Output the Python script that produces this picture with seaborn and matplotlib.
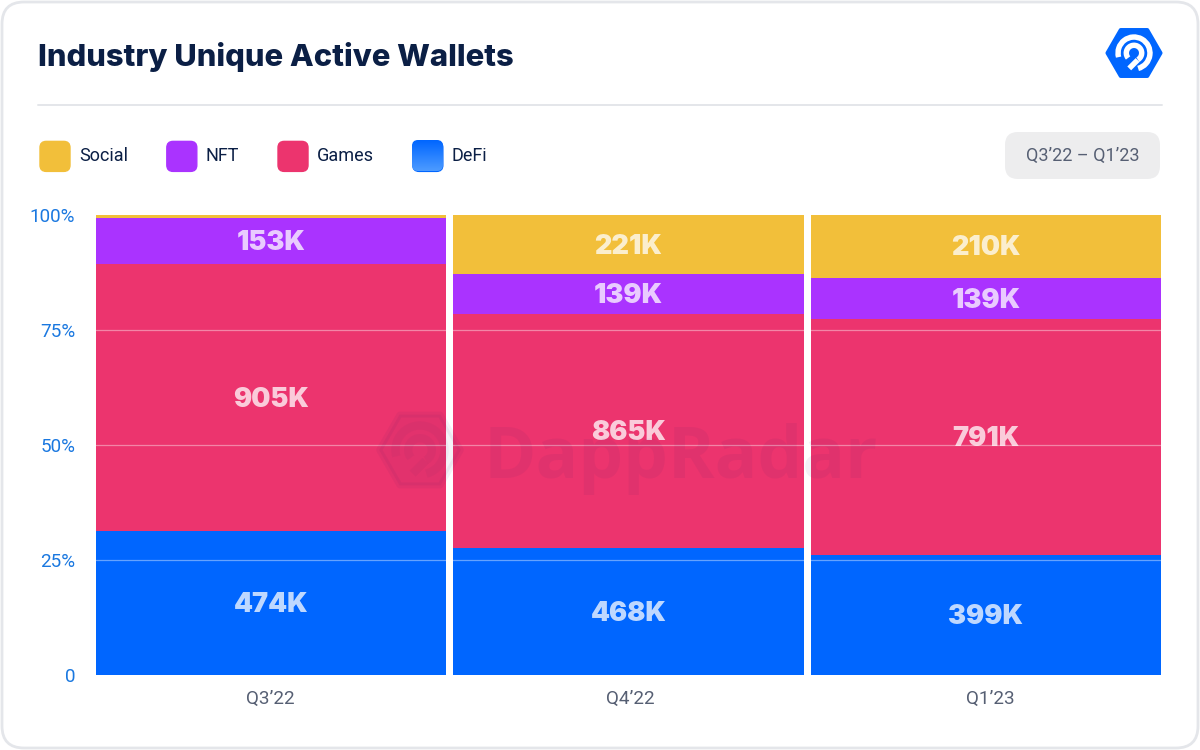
import numpy as np
import pandas as pd
import matplotlib
matplotlib.use('Agg')
import matplotlib.pyplot as plt
import seaborn as sns
from matplotlib.patches import Arc, FancyBboxPatch, Patch, RegularPolygon
from matplotlib.legend_handler import HandlerPatch

# Data (share of the quarter, in percent)
quarters = ["Q3’22", "Q4’22", "Q1’23"]
defi = [31.3, 27.6, 26.1]
games = [58.0, 50.9, 51.2]
nft = [10.0, 8.7, 9.1]
social = [0.7, 12.8, 13.6]

defi_labels = ["474K", "468K", "399K"]
games_labels = ["905K", "865K", "791K"]
nft_labels = ["153K", "139K", "139K"]
social_labels = ["", "221K", "210K"]

NAVY = '#0b1f45'
BLUE = '#0066ff'
RED = '#ec346e'
PURPLE = '#aa33ff'
YELLOW = '#f2bf3a'

sns.set_theme(style='white')
plt.rcParams['font.family'] = ['Roboto', 'DejaVu Sans']

df = pd.DataFrame({'quarter': quarters, 'DeFi': defi, 'Games': games, 'NFT': nft, 'Social': social})
layers = [('DeFi', BLUE, defi_labels), ('Games', RED, games_labels),
          ('NFT', PURPLE, nft_labels), ('Social', YELLOW, social_labels)]
cum = df[['DeFi', 'Games', 'NFT', 'Social']].cumsum(axis=1)

fig = plt.figure(figsize=(12, 7.5), dpi=100, facecolor='white')
ax = fig.add_axes([96 / 1200, 1 - 675 / 750, (1161 - 96) / 1200, (675 - 215) / 750])

# stacked bars: cumulative layers, tallest first
for name, color, _ in reversed(layers):
    sns.barplot(data=cum.assign(quarter=df['quarter']), x='quarter', y=name, color=color,
                saturation=1, width=0.98, linewidth=0, errorbar=None, ax=ax)

ax.set_xlim(-0.49, 2.49)
ax.set_ylim(0, 100)
ax.set_xlabel('')
ax.set_ylabel('')
sns.despine(ax=ax, left=True, bottom=True)

ax.set_yticks([0, 25, 50, 75, 100], ['0', '25%', '50%', '75%', '100%'])
ax.tick_params(axis='y', length=0, pad=15, labelsize=13.6, labelcolor='#1a78e0')
ax.set_xticks([-0.003, 1.004, 2.012], quarters)
ax.tick_params(axis='x', length=0, pad=11, labelsize=13.6, labelcolor='#565f73')

for y in [25, 50, 75]:
    ax.axhline(y, color='white', alpha=0.4, lw=0.9, zorder=5)

# value labels in the middle of each segment
for name, _, labels in layers:
    tops = cum[name].to_numpy()
    sizes = df[name].to_numpy()
    for i, lab in enumerate(labels):
        ax.annotate(lab, (i, tops[i] - sizes[i] / 2), xytext=(0, -1.5), textcoords='offset points',
                    ha='center', va='center', color='white', alpha=0.75, fontsize=19.5,
                    fontweight='black', family=['Inter', 'DejaVu Sans'], zorder=6)


def round_swatch(legend, orig_handle, xdescent, ydescent, width, height, fontsize):
    s = 21.6
    return FancyBboxPatch((-xdescent, -ydescent + (height - s) / 2 - 1), s, s,
                          boxstyle='round,pad=0,rounding_size=4.5')


handles = [Patch(color=c) for c in [YELLOW, PURPLE, RED, BLUE]]
ax.legend(handles, ['Social', 'NFT', 'Games', 'DeFi'], ncol=4, frameon=False, fontsize=13,
          labelcolor=NAVY, handlelength=1.66, handleheight=1.66, handletextpad=0.5,
          columnspacing=2.15, borderpad=0, borderaxespad=0, loc='center left',
          bbox_to_anchor=((40 - 96) / 1065, (675 - 155) / 460),
          handler_map={Patch: HandlerPatch(patch_func=round_swatch)})

# overlay in pixel coordinates for the card furniture
ov = fig.add_axes([0, 0, 1, 1], zorder=3)
ov.set_xlim(0, 1200)
ov.set_ylim(750, 0)
ov.axis('off')

ov.add_patch(FancyBboxPatch((2, 2), 1196, 746, boxstyle='round,pad=0,rounding_size=22',
                            fc='none', ec='#e4e6ea', lw=2))
ov.plot([38, 1162], [104.5, 104.5], color='#e4e6ea', lw=1.4)
ov.text(38, 66, 'Industry Unique Active Wallets', color=NAVY, fontsize=22.3, fontweight='heavy',
        family=['Inter', 'DejaVu Sans'], va='baseline', ha='left')

ov.add_patch(FancyBboxPatch((1005, 132), 155, 47, boxstyle='round,pad=0,rounding_size=13',
                            fc='#ededee', ec='none'))
ov.text(1082.5, 155.5, 'Q3’22 – Q1’23', color='#565f73', fontsize=13, ha='center', va='center')

# lighter lower half on the DeFi swatch
grad = np.linspace(0, 1, 64).reshape(-1, 1)
swatch = FancyBboxPatch((412, 140), 31, 31, boxstyle='round,pad=0,rounding_size=6',
                        fc='none', ec='none', transform=ov.transData)
ov.add_patch(swatch)
cmap = matplotlib.colors.LinearSegmentedColormap.from_list('defi', [BLUE, '#4d9bff'])
img = ov.imshow(grad, extent=(412, 443, 171, 140), cmap=cmap, aspect='auto', zorder=4)
img.set_clip_path(swatch)
ov.set_xlim(0, 1200)
ov.set_ylim(750, 0)


def radar_logo(cx, cy, r, hex_color, mark_color, hex_alpha=1.0, mark_alpha=1.0):
    ov.add_patch(RegularPolygon((cx, cy), 6, radius=r * 0.95, orientation=np.pi / 6,
                                fc=hex_color, ec=hex_color, lw=r * 0.1, joinstyle='round', alpha=hex_alpha))
    lw = r * 0.14
    ov.add_patch(Arc((cx, cy), r * 1.14, r * 1.14, theta1=165, theta2=75 + 360, color=mark_color,
                     lw=lw, alpha=mark_alpha))
    ov.add_patch(Arc((cx, cy), r * 0.55, r * 0.55, theta1=140, theta2=60 + 360, color=mark_color,
                     lw=lw, alpha=mark_alpha))
    ov.plot([cx + r * 0.13, cx - r * 0.17], [cy + r * 0.25, cy + r * 0.55], color=mark_color,
            lw=lw, alpha=mark_alpha, solid_capstyle='butt')


radar_logo(1134, 53, 28, BLUE, 'white')

# watermark
radar_logo(420, 450, 43, '#2a1a6a', '#2a1a6a', hex_alpha=0.05, mark_alpha=0.04)
ov.text(484, 478, 'DappRadar', color='#2a1a6a', alpha=0.06, fontsize=51, fontweight='bold',
        family=['Open Sans', 'DejaVu Sans'], va='baseline', ha='left')

fig.savefig('out.png', dpi=100)
